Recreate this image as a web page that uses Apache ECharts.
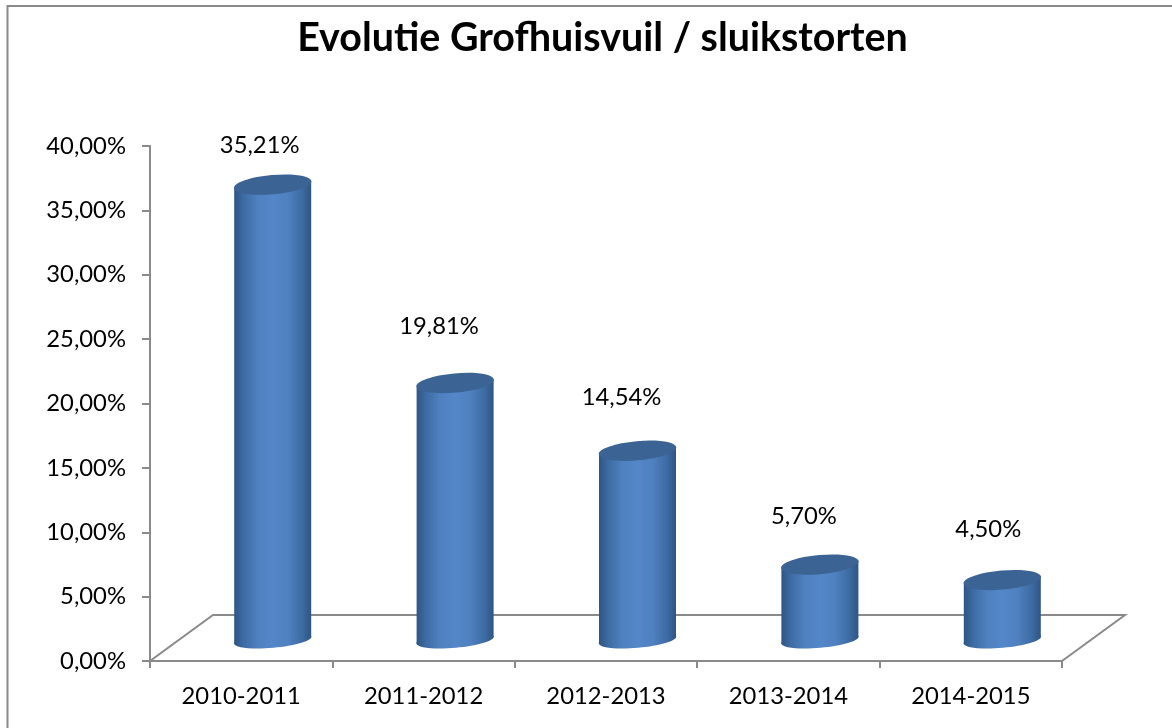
<!DOCTYPE html>
<html><head><meta charset="utf-8">
<style>html,body{margin:0;padding:0;background:#fff}#c{width:1172px;height:728px}</style>
<script src="https://cdn.jsdelivr.net/npm/echarts@6/dist/echarts.min.js"></script>
</head><body><div id="c"></div>
<script>
const categories = ['2010-2011','2011-2012','2012-2013','2013-2014','2014-2015'];
const values = [35.21,19.81,14.54,5.70,4.50];
const valueLabels = ['35,21%','19,81%','14,54%','5,70%','4,50%'];
const chartTitle = 'Evolutie Grofhuisvuil / sluikstorten';
const yTicks = {min:0,max:40,interval:5};

// layout of the pseudo-3D drawing
const DEPTH_X = 63, DEPTH_Y = 46;
const labelShift = [[-13,-39],[-16,-57],[-16,-53],[-16,-48],[-14,-51]];
const HALF_W = 38.5, CAP_RY = 9.6, BASE_RY = 7.8, TILT = 0.09;
const FONT = 'Lato, Carlito, "Open Sans", sans-serif';

const bodyFill = new echarts.graphic.LinearGradient(0,0,1,0,[
  {offset:0,color:'#2f5583'},{offset:0.12,color:'#3d6ba3'},{offset:0.3,color:'#4f80bf'},
  {offset:0.5,color:'#5487c9'},{offset:0.7,color:'#4f80bf'},{offset:0.88,color:'#3d6ba3'},{offset:1,color:'#2f5583'}]);

function renderBar(params, api){
  const i = api.value(0), v = api.value(1);
  const top = api.coord([i,v]), zero = api.coord([i,0]);
  const cx = top[0] + DEPTH_X/2, ty = top[1] - DEPTH_Y/2, by = zero[1] - 21;
  const dy = HALF_W*Math.sin(TILT);
  const ell = (y,ry)=>({type:'ellipse',originX:cx,originY:y,rotation:TILT,
     shape:{cx:cx,cy:y,rx:HALF_W+0.4,ry:ry}});
  const body = {type:'polygon',
     shape:{points:[[cx-HALF_W,ty+dy],[cx+HALF_W,ty-dy],[cx+HALF_W,by-dy],[cx-HALF_W,by+dy]]},
     style:{fill:bodyFill}};
  const base = Object.assign(ell(by,BASE_RY),{style:{fill:bodyFill}});
  const cap = Object.assign(ell(ty,CAP_RY),{style:{fill:'#3b6495'}});
  const s = labelShift[i];
  const label = {type:'text',style:{text:valueLabels[i],x:cx+s[0],y:ty+s[1],
     align:'center',verticalAlign:'middle',fill:'#000',font:'23.8px '+FONT}};
  return {type:'group',children:[base,body,cap,label]};
}
function renderFloor(params, api){
  const cs = params.coordSys, x0 = cs.x, x1 = cs.x+cs.width, y = api.coord([0,0])[1];
  const st = {fill:'none',stroke:'#8a8a8a',lineWidth:2};
  return {type:'polyline',silent:true,
    shape:{points:[[x0,y],[x0+DEPTH_X,y-DEPTH_Y],[x1+DEPTH_X,y-DEPTH_Y],[x1,y]]},style:st};
}
const chart = echarts.init(document.getElementById('c'),null,{renderer:'canvas'});
chart.setOption({
  animation:false,
  backgroundColor:'#fff',
  title:{text:chartTitle,left:597.5,textAlign:'center',top:14,itemGap:0,
    textStyle:{fontFamily:FONT,fontWeight:'bold',fontSize:39.4,color:'#000'}},
  grid:{left:150,right:110,top:146,bottom:67,containLabel:false},
  xAxis:{type:'category',data:categories,
    axisLine:{lineStyle:{color:'#8a8a8a',width:2}},
    axisTick:{show:true,alignWithLabel:false,length:7,lineStyle:{color:'#8a8a8a',width:2}},
    axisLabel:{color:'#000',fontFamily:FONT,fontSize:23.8,margin:23,interval:0},splitLine:{show:false}},
  yAxis:{type:'value',min:yTicks.min,max:yTicks.max,interval:yTicks.interval,
    axisLine:{show:true,lineStyle:{color:'#8a8a8a',width:2}},
    axisTick:{show:true,length:8,lineStyle:{color:'#8a8a8a',width:2}},
    axisLabel:{color:'#000',fontFamily:FONT,fontSize:23.8,margin:24,padding:[2,0,0,0],
      formatter:v=>v.toFixed(2).replace('.',',')+'%'},splitLine:{show:false}},
  series:[
    {type:'custom',z:1,renderItem:renderFloor,data:[[0,0]],encode:{x:0,y:1},silent:true},
    {type:'custom',z:2,renderItem:renderBar,data:values.map((v,i)=>[i,v]),encode:{x:0,y:1}}
  ],
  graphic:[{type:'polyline',z:100,silent:true,shape:{points:[[7.5,728],[7.5,6],[1172,6]]},style:{fill:'none',stroke:'#8a8a8a',lineWidth:2}}]
});
</script></body></html>
